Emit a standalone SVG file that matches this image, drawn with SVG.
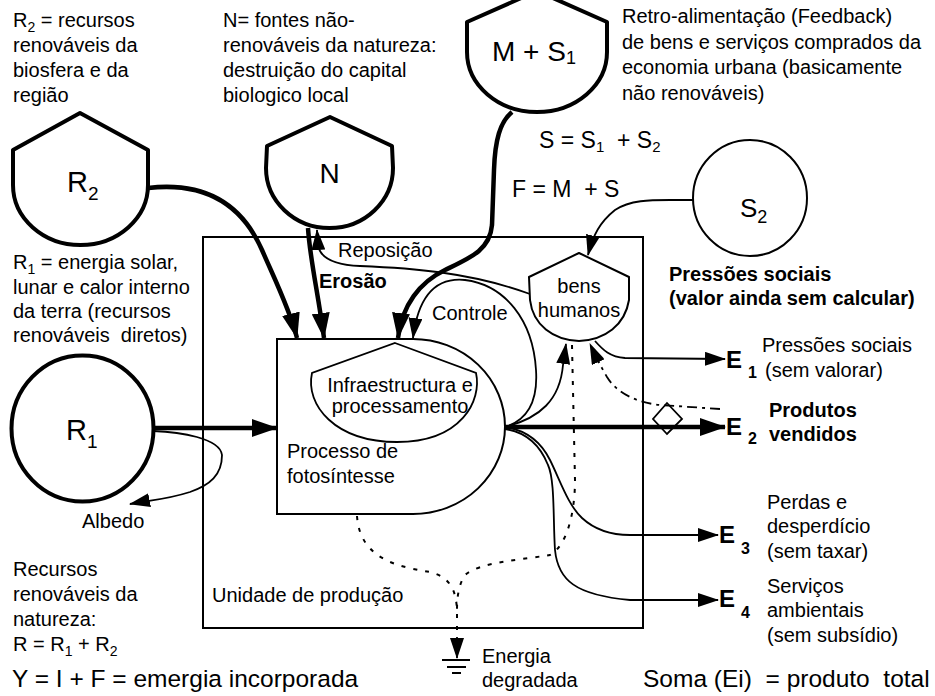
<svg xmlns="http://www.w3.org/2000/svg" width="935" height="696" viewBox="0 0 935 696">
<style>
svg{font-family:"Liberation Sans",Arial,sans-serif;font-size:20px}
text{fill:#000}
.b{font-weight:bold}
.bx{fill:none;stroke:#000;stroke-width:2}
.tk{fill:#fff;stroke:#000;stroke-width:4;stroke-linejoin:round}
.tn{fill:#fff;stroke:#000;stroke-width:2;stroke-linejoin:round}
.w{fill:none;stroke:#000;stroke-width:4.5}
.n{fill:none;stroke:#000;stroke-width:1.8}
.dot{fill:none;stroke:#000;stroke-width:2;stroke-dasharray:4 8}
.dd{fill:none;stroke:#000;stroke-width:1.8;stroke-dasharray:10 5 3 5}
</style>
<defs>
<marker id="aw" markerUnits="userSpaceOnUse" markerWidth="26" markerHeight="18" viewBox="0 0 26 18" refX="25" refY="9" orient="auto"><path d="M0 0L26 9L0 18Z"/></marker>
<marker id="an" markerUnits="userSpaceOnUse" markerWidth="21" markerHeight="14" viewBox="0 0 21 14" refX="20" refY="7" orient="auto"><path d="M0 0L21 7L0 14Z"/></marker>
</defs>
<rect width="935" height="696" fill="#fff"/>

<g id="unidade">
<rect class="bx" x="203" y="237" width="440" height="391"/>
<text x="212" y="602">Unidade de produção</text>
</g>

<g id="processo">
<path class="bx" d="M277 339L413 339A92 87.5 0 0 1 413 514L277 514Z"/>
<text x="287" y="458">Processo de</text>
<text x="287" y="483">fotosíntesse</text>
</g>

<g id="infra">
<path class="n" d="M395 343L476 373C482 400 462 442 397 442C335 442 305 405 312 373Z"/>
<text x="400" y="392" text-anchor="middle">Infraestructura e</text>
<text x="400" y="413" text-anchor="middle">processamento</text>
</g>

<g id="connectors">
<path class="w" marker-end="url(#aw)" d="M148 188C200 182 240 200 262 250C275 280 290 310 297 338"/>
<path class="w" marker-end="url(#aw)" d="M308 228C310 260 318 292 324 338"/>
<path class="n" marker-end="url(#an)" d="M530 294C470 272 410 268 360 266C335 265 320 258 318 245L317 230"/>
<path class="w" marker-end="url(#aw)" d="M512 112C500 122 495 140 494 170L492 225C490 250 470 258 445 270C420 282 402 305 398 338"/>
<path class="n" marker-end="url(#an)" d="M505 427C528 420 538 400 536 370C533 320 505 285 465 280C435 277 418 298 413 338"/>
<path class="n" marker-end="url(#an)" d="M505 427C540 418 560 400 563 365L566 344"/>
<path class="n" marker-end="url(#an)" d="M595 341C603 350 610 357 625 358L725 359"/>
<path class="w" marker-end="url(#aw)" d="M505 427L725 427"/>
<path class="dd" marker-end="url(#an)" d="M720 409L660 405C640 403 618 395 607 377C600 365 595 355 590 344"/>
<path fill="none" stroke="#000" stroke-width="1.8" d="M667 403L682 419L667 434L653 419Z"/>
<path class="n" marker-end="url(#an)" d="M505 427C525 430 540 440 550 460C560 480 568 505 582 518C595 530 612 535 630 535L718 535"/>
<path class="n" marker-end="url(#an)" d="M505 429C525 432 540 445 548 465C555 480 553 520 555 550C558 580 575 595 630 600L718 600"/>
<path class="w" marker-end="url(#aw)" d="M153 428L277 428"/>
<path class="n" marker-end="url(#an)" d="M153 431C180 432 220 438 222 455C222 475 210 485 190 492C165 500 150 500 130 504"/>
<path class="n" marker-end="url(#an)" d="M693 200L670 200C650 200 630 200 615 210C600 222 593 235 588 255"/>
<path class="dot" d="M357 516C360 560 400 567 430 572C450 577 456 590 457 610L457 637"/>
<path class="dot" d="M572 345L575 480C575 510 568 545 550 555C520 560 480 562 465 575C458 585 457 600 457 610"/>
<path class="n" marker-end="url(#an)" d="M457 637L457 658"/>
<path class="n" d="M442 660H470M447 667H466M452 673H461"/>
</g>

<g id="R2">
<path class="tk" d="M80 113L148 150L148 185A67.5 60 0 0 1 13 185L13 150Z"/>
<text x="67" y="192" font-size="29">R<tspan font-size="19" dy="8">2</tspan></text>
</g>

<g id="N">
<path class="tk" d="M330 117L392 146L393 168A63.5 60 0 0 1 266 168L267 146Z"/>
<text x="329.5" y="183" font-size="28" text-anchor="middle">N</text>
</g>

<g id="MS1">
<path class="tk" d="M537 -9L607 22L607 52A70 60 0 0 1 467 52L467 22Z"/>
<text x="492" y="61" font-size="28">M + S<tspan font-size="18" dy="3">1</tspan></text>
</g>

<g id="R1">
<ellipse class="tk" cx="82.5" cy="428.5" rx="71" ry="73"/>
<text x="66" y="440" font-size="29">R<tspan font-size="19" dy="8">1</tspan></text>
</g>

<g id="S2">
<ellipse class="tn" cx="750" cy="198" rx="57" ry="58"/>
<text x="740" y="217" font-size="26">S<tspan font-size="18" dy="6">2</tspan></text>
</g>

<g id="bens">
<path class="tn" d="M579 253L629 277L629 300C625 325 605 340 579 341C553 340 533 325 530 300L529 277Z"/>
<text x="579" y="293" text-anchor="middle">bens</text>
<text x="579" y="317" text-anchor="middle">humanos</text>
</g>

<g id="labels">
<text x="13" y="27">R<tspan font-size="14" dy="5">2</tspan><tspan dy="-5"> = recursos</tspan></text>
<text x="13" y="52">renováveis da</text>
<text x="13" y="77">biosfera e da</text>
<text x="13" y="102">região</text>

<text x="223" y="27">N= fontes não-</text>
<text x="223" y="52">renováveis da natureza:</text>
<text x="223" y="77">destruição do capital</text>
<text x="223" y="102">biologico local</text>

<text x="622" y="23">Retro-alimentação (Feedback)</text>
<text x="622" y="49">de bens e serviços comprados da</text>
<text x="622" y="74">economia urbana (basicamente</text>
<text x="622" y="100">não renováveis)</text>

<text x="539" y="148" font-size="23" xml:space="preserve">S = S<tspan font-size="15" dy="4">1</tspan><tspan dy="-4">  + S</tspan><tspan font-size="15" dy="4">2</tspan></text>
<text x="512" y="197" font-size="23" xml:space="preserve">F = M  + S</text>

<text x="13" y="269">R<tspan font-size="14" dy="5">1</tspan><tspan dy="-5"> = energia solar,</tspan></text>
<text x="13" y="294">lunar e calor interno</text>
<text x="13" y="318">da terra (recursos</text>
<text x="13" y="342" xml:space="preserve">renováveis  diretos)</text>

<text x="82" y="528">Albedo</text>

<text x="13" y="576">Recursos</text>
<text x="13" y="601">renováveis da</text>
<text x="13" y="626">natureza:</text>
<text x="13" y="651">R = R<tspan font-size="14" dy="5">1</tspan><tspan dy="-5"> + R</tspan><tspan font-size="14" dy="5">2</tspan></text>

<text x="12" y="687" font-size="24.5">Y = I + F = emergia incorporada</text>
<text x="643" y="687" font-size="24.5" xml:space="preserve">Soma (Ei)  = produto  total</text>

<text x="338" y="257">Reposição</text>
<text x="319" y="288" class="b">Erosão</text>
<text x="432" y="320">Controle</text>

<text x="669" y="281" class="b">Pressões sociais</text>
<text x="669" y="305" class="b">(valor ainda sem calcular)</text>

<text x="726" y="368" font-size="24" class="b">E</text>
<text x="748" y="378" font-size="16" class="b">1</text>
<text x="762" y="352">Pressões sociais</text>
<text x="765" y="377">(sem valorar)</text>

<text x="726" y="435" font-size="24" class="b">E</text>
<text x="748" y="444" font-size="16" class="b">2</text>
<text x="769" y="417" class="b">Produtos</text>
<text x="769" y="441" class="b">vendidos</text>

<text x="719" y="543" font-size="24" class="b">E</text>
<text x="741" y="554" font-size="16" class="b">3</text>
<text x="767" y="509">Perdas e</text>
<text x="767" y="533">desperdício</text>
<text x="767" y="558">(sem taxar)</text>

<text x="719" y="607" font-size="24" class="b">E</text>
<text x="741" y="618" font-size="16" class="b">4</text>
<text x="767" y="593">Serviços</text>
<text x="767" y="617">ambientais</text>
<text x="767" y="642">(sem subsídio)</text>

<text x="482" y="663">Energia</text>
<text x="482" y="687">degradada</text>
</g>
</svg>
